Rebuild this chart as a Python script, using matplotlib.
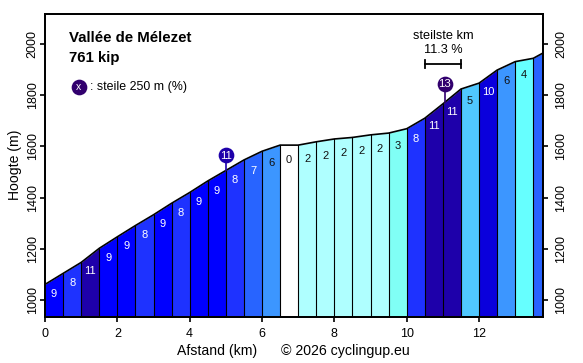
import numpy as np
import matplotlib
matplotlib.use('Agg')
import matplotlib.pyplot as plt

plt.rcParams['font.family'] = ['Liberation Sans', 'DejaVu Sans']

# profile, one point every 500 m, last one is the summit
dist = [0, 0.5, 1, 1.5, 2, 2.5, 3, 3.5, 4, 4.5, 5, 5.5, 6, 6.5, 7, 7.5, 8, 8.5, 9, 9.5, 10, 10.5, 11, 11.5, 12, 12.5, 13, 13.5, 13.76]
elev = [1061, 1104, 1147, 1202, 1247, 1291, 1333, 1378, 1420, 1465, 1506, 1547, 1581, 1605, 1605, 1618, 1629, 1635, 1645, 1652, 1669, 1710, 1766, 1824, 1847, 1898, 1931, 1944, 1964]
pct = [9, 8, 11, 9, 9, 8, 9, 8, 9, 9, 8, 7, 6, 0, 2, 2, 2, 2, 2, 3, 8, 11, 11, 5, 10, 6, 4, 7]
pct_labels = ['9', '8', '11', '9', '9', '8', '9', '8', '9', '9', '8', '7', '6', '0', '2', '2', '2', '2', '2', '3', '8', '11', '11', '5', '10', '6', '4', '']

colors = {0: '#ffffff', 2: '#afffff', 3: '#80fff5', 4: '#66ffff', 5: '#50c8ff', 6: '#3c96ff',
          7: '#2864ff', 8: '#1e32ff', 9: '#0000ff', 10: '#0a00dc', 11: '#1e00aa', 13: '#32006e'}

# steepest 250 m markers
steep_x = [5.0, 11.05]
steep_top = [1566, 1844]
steep_base = [1506, 1773]
steep_val = [11, 13]

W, H = 583, 363
fig = plt.figure(figsize=(W / 100, H / 100), dpi=100)
ax = fig.add_axes([45 / W, 1 - 316.7 / H, 497.7 / W, 302.7 / H])

for i in range(len(pct)):
    ax.fill_between(dist[i:i + 2], elev[i:i + 2], 900, color=colors[pct[i]], lw=0, zorder=1)
    if i > 0:
        ax.plot([dist[i], dist[i]], [900, elev[i]], c='k', lw=0.8, zorder=2)
    if pct_labels[i]:
        xm = (dist[i] + dist[i + 1]) / 2
        ym = (elev[i] + elev[i + 1]) / 2
        tc = 'white' if pct[i] >= 7 else '#111111'
        ax.annotate(pct_labels[i], (xm, ym), xytext=(0, -11), textcoords='offset points',
                    ha='center', va='center', fontsize=8, color=tc, zorder=3)
ax.plot(dist, elev, c='k', lw=1.2, zorder=4)

for x, t, b, v in zip(steep_x, steep_top, steep_base, steep_val):
    ax.plot([x, x], [b, t], c=colors[v], lw=1.2, zorder=5)
    ax.plot(x, t, 'o', ms=11.3, c=colors[v], mew=0, zorder=6)
    ax.text(x, t - 2, str(v), ha='center', va='center', fontsize=8.2, color='white', zorder=7)

ax.set_xlim(0, 13.76)
ax.set_ylim(935, 2117)
ax.set_xticks([0, 2, 4, 6, 8, 10, 12])
ax.set_yticks([1000, 1200, 1400, 1600, 1800, 2000])
ax.tick_params(axis='x', length=3.6, width=1.2, labelsize=9, pad=4.5)
ax.tick_params(axis='y', length=3.6, width=1.2, labelsize=9, pad=1, labelrotation=90)
for lab in ax.get_yticklabels():
    lab.set_va('center')

# right hand scale needs its own padding
ax2 = ax.twinx()
ax2.set_ylim(ax.get_ylim())
ax2.set_yticks([1000, 1200, 1400, 1600, 1800, 2000])
ax2.tick_params(axis='y', length=3.6, width=1.2, labelsize=9, pad=5.5, labelrotation=90)
for lab in ax2.get_yticklabels():
    lab.set_va('center')

for a in (ax, ax2):
    for s in a.spines.values():
        s.set_linewidth(1.3)

def px(x, y):
    return x / W, 1 - y / H

fig.text(*px(217, 351.5), 'Afstand (km)', ha='center', va='center', fontsize=10.1)
fig.text(*px(345, 351.5), '\u00a9 2026 cyclingup.eu', ha='center', va='center', fontsize=10.2)
fig.text(*px(14.5, 165), 'Hoogte (m)', ha='center', va='center', rotation=90, fontsize=10.1)
fig.text(*px(69, 38), 'Vall\u00e9e de M\u00e9lezet', ha='left', va='center', fontsize=10.8, fontweight='bold')
fig.text(*px(69, 58), '761 kip', ha='left', va='center', fontsize=10.8, fontweight='bold')
fig.text(*px(89.5, 87), ': steile 250 m (%)', ha='left', va='center', fontsize=8.9)
fig.text(*px(443, 36), 'steilste km', ha='center', va='center', fontsize=9.2)
fig.text(*px(443, 50), '11.3 %', ha='center', va='center', fontsize=9.2)

# legend circle and steepest km bracket, placed in pixels
over = fig.add_axes([0, 0, 1, 1], facecolor='none')
over.set_axis_off()
over.set_xlim(0, W)
over.set_ylim(H, 0)
over.plot(79, 87, 'o', ms=11.3, c=colors[13], mew=0)
over.text(79, 86.5, 'x', ha='center', va='center', fontsize=7.5, color='white')
over.plot([425, 461], [64, 64], c='k', lw=1.3)
over.plot([425, 425], [60, 68], c='k', lw=1.3)
over.plot([461, 461], [60, 68], c='k', lw=1.3)

fig.savefig('out.png', dpi=100)
